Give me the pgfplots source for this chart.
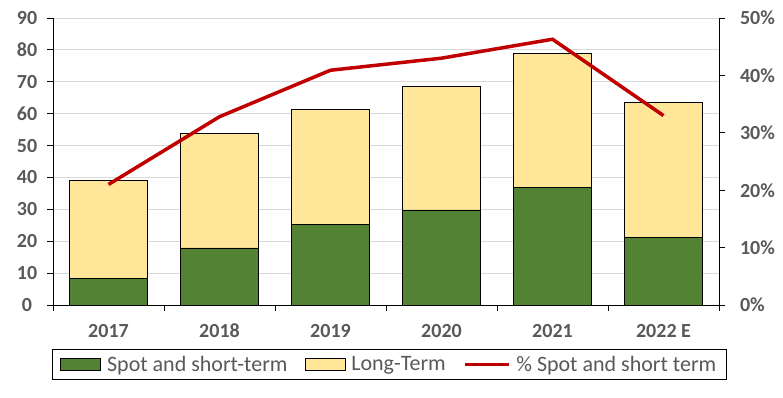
\documentclass[border=0pt]{standalone}
\usepackage{pgfplots}
\pgfplotsset{compat=1.18}
\usepackage{fontspec}
\setmainfont{Carlito}
\definecolor{cgreen}{HTML}{548235}
\definecolor{cyellow}{HTML}{FFE699}
\definecolor{cred}{HTML}{C00000}
\definecolor{cgray}{HTML}{595959}
\definecolor{cgrid}{HTML}{D9D9D9}
\begin{document}
\begin{tikzpicture}[x=1pt,y=1pt]
\pgfplotsset{
  every axis/.append style={
    scale only axis, width=666pt, height=287pt,
    xmin=-0.5, xmax=5.5,
    /pgf/number format/assume math mode=true,
    tick style={black, line width=0.8pt},
    axis line style={black, line width=0.8pt, -},
    tick align=outside,
    major tick length=6pt, minor tick length=6pt,
    ticklabel style={font=\fontsize{20}{24}\selectfont\bfseries, text=cgray},
  }
}
\begin{axis}[
  ybar stacked, bar width=78pt,
  ymin=0, ymax=90, ytick={0,10,...,90},
  axis x line*=bottom, axis y line*=left,
  xtick={0,...,5}, major x tick style={draw=none},
  xticklabels={2017,2018,2019,2020,2021,2022 E},
  minor xtick={-0.5,0.5,...,5.5},
  xticklabel style={yshift=-9.5pt},
  ymajorgrids, grid style={cgrid, line width=0.8pt},
  yticklabel style={anchor=center, xshift=-20pt},
]
\addplot[fill=cgreen, draw=black, line width=0.8pt] coordinates {(0,8.2) (1,17.9) (2,25.4) (3,29.8) (4,37.0) (5,21.3)};
\addplot[fill=cyellow, draw=black, line width=0.8pt] coordinates {(0,31.0) (1,36.0) (2,36.0) (3,38.9) (4,42.0) (5,42.3)};
\end{axis}
\begin{axis}[
  ymin=0, ymax=50, ytick={0,10,...,50},
  axis y line*=right, axis x line=none,
  yticklabel={\pgfmathprintnumber{\tick}\%},
  yticklabel style={xshift=11.5pt},
  legend style={at={(0.505,-0.207)}, anchor=center, draw=black, line width=0.8pt,
    legend columns=3, font=\fontsize{22}{24}\selectfont, text=cgray,
    /tikz/every even column/.append style={column sep=15pt},
    /tikz/every odd column/.append style={column sep=4pt},
    inner xsep=8pt, inner ysep=4.5pt},
  legend cell align=left,
]
\addlegendimage{legend image code/.code={\draw[fill=cgreen, draw=black, line width=0.8pt] (0pt,-6pt) rectangle (40pt,6pt);}}
\addlegendentry{Spot and short-term}
\addlegendimage{legend image code/.code={\draw[fill=cyellow, draw=black, line width=0.8pt] (0pt,-6pt) rectangle (40pt,6pt);}}
\addlegendentry{Long-Term}
\addplot[cred, line width=3.5pt, legend image code/.code={\draw[cred, line width=3.5pt] (0pt,0pt) -- (44pt,0pt);}] coordinates {(0,21.0) (1,32.8) (2,40.9) (3,43.0) (4,46.3) (5,33.0)};
\addlegendentry{\% Spot and short term}
\end{axis}
\pgfresetboundingbox
\path (-53pt,-93pt) rectangle (730pt,305pt);
\end{tikzpicture}
\end{document}
